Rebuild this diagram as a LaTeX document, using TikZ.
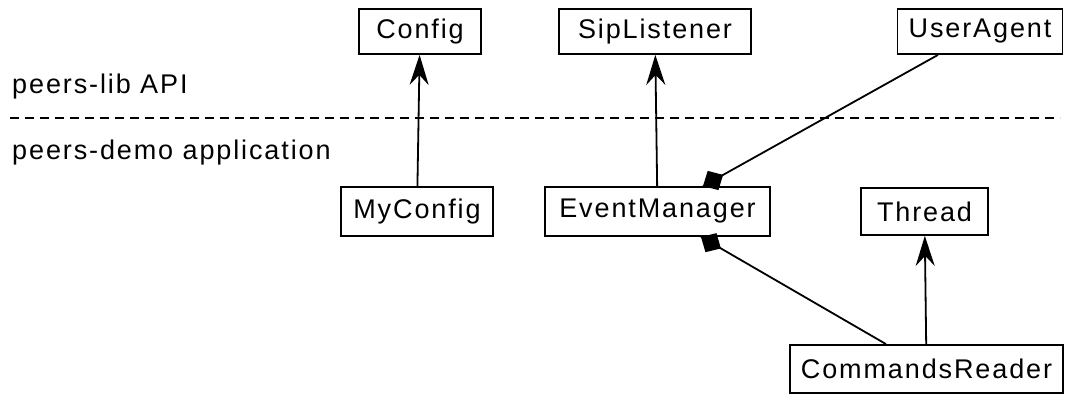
\documentclass[tikz,border=0pt]{standalone}
\usepackage{fontspec}
\setmainfont{Liberation Sans}[LetterSpace=7]
\usetikzlibrary{arrows.meta,calc}
\tikzset{
  cls/.style={draw, line width=1.8pt, inner sep=0pt, font=\fontsize{27}{32}\selectfont},
  inherit/.style={line width=1.8pt, -{Stealth[length=30pt, width=19pt, inset=10pt]}},
  link/.style={line width=1.8pt},
  layer/.style={anchor=base west, inner sep=0pt, font=\fontsize{27}{32}\selectfont},
}
% filled composition diamond at the whole end #1 of a link towards #2
\newcommand\compdiamond[2]{%
  \fill ($(#1)$) -- ($($(#1)!11.5pt!(#2)$)!11pt!90:(#2)$) -- ($(#1)!23pt!(#2)$)
        -- ($($(#1)!11.5pt!(#2)$)!11pt!-90:(#2)$) -- cycle;}
\begin{document}
\begin{tikzpicture}[x=1pt, y=1pt]
  \useasboundingbox (0,0) rectangle (1065,394);
  % API classes
  \node[cls, minimum width=122pt, minimum height=45pt] (Config) at (420,362.5) {Config};
  \node[cls, minimum width=192pt, minimum height=45pt] (SipListener) at (655,362.5) {SipListener};
  \node[cls, minimum width=165pt, minimum height=45pt] (UserAgent) at (980,362.5) {UserAgent};
  % application classes
  \node[cls, minimum width=152pt, minimum height=49pt] (MyConfig) at (417,182.5) {MyConfig};
  \node[cls, minimum width=225pt, minimum height=49pt] (EventManager) at (657.5,182.5) {EventManager};
  \node[cls, minimum width=127pt, minimum height=47pt] (Thread) at (924.5,182.5) {Thread};
  \node[cls, minimum width=273pt, minimum height=48pt] (CommandsReader) at (926.5,25) {CommandsReader};
  % layer separator
  \node[layer] (lib) at (12,300) {peers-lib API};
  \node[layer] (demo) at (12,234) {peers-demo application};
  \coordinate (sepL) at (10,276);
  \coordinate (sepR) at (1060,276);
  \draw[line width=1.6pt, dash pattern=on 9pt off 6pt] (sepL) -- (sepR);
  % generalisations
  \draw[inherit] (MyConfig) -- (Config);
  \draw[inherit] (EventManager) -- (SipListener);
  \draw[inherit] (CommandsReader) -- (Thread);
  % compositions
  \coordinate (emTop) at ([xshift=45.5pt]EventManager.north);
  \coordinate (uaEnd) at ([xshift=-42pt]UserAgent.south);
  \coordinate (emBot) at ([xshift=43.5pt]EventManager.south);
  \coordinate (crEnd) at ([xshift=-40.5pt]CommandsReader.north);
  \draw[link] (emTop) -- (uaEnd);
  \draw[link] (emBot) -- (crEnd);
  \compdiamond{emTop}{uaEnd}
  \compdiamond{emBot}{crEnd}
\end{tikzpicture}
\end{document}
